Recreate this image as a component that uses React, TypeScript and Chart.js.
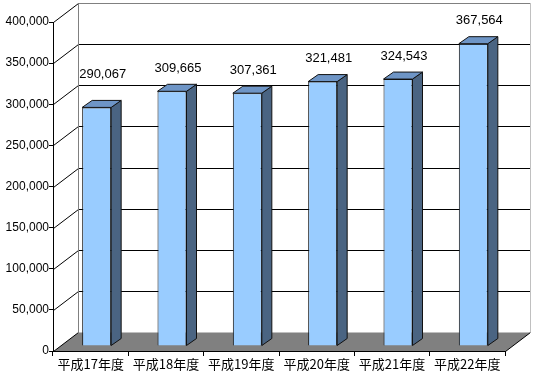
import React, { useEffect, useRef } from "react";
import { Chart, registerables } from "chart.js";

Chart.register(...registerables);

const categories = ["平成17年度", "平成18年度", "平成19年度", "平成20年度", "平成21年度", "平成22年度"];
const values = [290067, 309665, 307361, 321481, 324543, 367564];
const yMin = 0;
const yMax = 400000;
const yStep = 50000;

// 3D geometry (pixels)
const WALL_DX = 25;
const WALL_DY = 19;
const BAR_SHIFT_X = 6;
const BAR_SHIFT_Y = 5;
const BAR_DX = 10;
const BAR_DY = 7;
const LABEL_LIFT = 23;
const FIRST_LABEL_EXTRA = 10;

const FRONT = "#99CCFF";
const SIDE = "#4A6482";
const TOP = "#6E95C6";
const FLOOR = "#808080";

const fmt = (v: number) => v.toLocaleString("en-US");

const wallsPlugin = {
  id: "walls3d",
  beforeDraw(chart: any) {
    const { ctx, chartArea, scales } = chart;
    const { left, right, bottom } = chartArea;
    const y = scales.y;
    const L = Math.round(left) + 0.5;
    const R = Math.round(right) + 0.5;
    const B = Math.round(bottom) + 0.5;
    ctx.save();
    ctx.fillStyle = FLOOR;
    ctx.beginPath();
    ctx.moveTo(L, B);
    ctx.lineTo(R, B);
    ctx.lineTo(R + WALL_DX, B - WALL_DY);
    ctx.lineTo(L + WALL_DX, B - WALL_DY);
    ctx.closePath();
    ctx.fill();
    ctx.lineWidth = 1;
    ctx.strokeStyle = "#000";
    ctx.beginPath();
    ctx.moveTo(R, B);
    ctx.lineTo(R + WALL_DX, B - WALL_DY);
    ctx.stroke();
    ctx.beginPath();
    ctx.moveTo(L, B);
    ctx.lineTo(L + WALL_DX, B - WALL_DY);
    ctx.stroke();
    for (let v = yMin + yStep; v <= yMax; v += yStep) {
      const py = Math.round(y.getPixelForValue(v)) + 0.5;
      ctx.strokeStyle = v === yMax ? "#808080" : "#000";
      ctx.beginPath();
      ctx.moveTo(L + WALL_DX, py - WALL_DY);
      ctx.lineTo(R + WALL_DX, py - WALL_DY);
      ctx.stroke();
      ctx.strokeStyle = "#000";
      ctx.beginPath();
      ctx.moveTo(L, py);
      ctx.lineTo(L + WALL_DX, py - WALL_DY);
      ctx.stroke();
    }
    const topPy = Math.round(y.getPixelForValue(yMax)) + 0.5;
    ctx.strokeStyle = "#808080";
    ctx.beginPath();
    ctx.moveTo(L + WALL_DX, topPy - WALL_DY);
    ctx.lineTo(L + WALL_DX, B - WALL_DY);
    ctx.stroke();
    ctx.strokeStyle = "#C0C0C0";
    ctx.beginPath();
    ctx.moveTo(R + WALL_DX, topPy - WALL_DY);
    ctx.lineTo(R + WALL_DX, B - WALL_DY);
    ctx.stroke();
    ctx.restore();
  },
  beforeDatasetsDraw(chart: any) {
    chart.ctx.save();
    chart.ctx.translate(BAR_SHIFT_X, -BAR_SHIFT_Y);
  },
  afterDatasetsDraw(chart: any) {
    const { ctx } = chart;
    const meta = chart.getDatasetMeta(0);
    ctx.lineWidth = 1;
    ctx.strokeStyle = "#111";
    meta.data.forEach((el: any) => {
      const { x, y, base, width } = el.getProps(["x", "y", "base", "width"], true);
      const l = x - width / 2;
      const r = x + width / 2;
      ctx.fillStyle = SIDE;
      ctx.beginPath();
      ctx.moveTo(r, y);
      ctx.lineTo(r + BAR_DX, y - BAR_DY);
      ctx.lineTo(r + BAR_DX, base - BAR_DY);
      ctx.lineTo(r, base);
      ctx.closePath();
      ctx.fill();
      ctx.stroke();
      ctx.fillStyle = TOP;
      ctx.beginPath();
      ctx.moveTo(l, y);
      ctx.lineTo(l + BAR_DX, y - BAR_DY);
      ctx.lineTo(r + BAR_DX, y - BAR_DY);
      ctx.lineTo(r, y);
      ctx.closePath();
      ctx.fill();
      ctx.stroke();
    });
    ctx.restore();
    ctx.save();
    ctx.fillStyle = "#000";
    ctx.font = "13px 'Liberation Sans', Arial, sans-serif";
    ctx.textAlign = "center";
    ctx.textBaseline = "middle";
    meta.data.forEach((el: any, i: number) => {
      const { x, y } = el.getProps(["x", "y"], true);
      const lift = LABEL_LIFT + (i === 0 ? FIRST_LABEL_EXTRA : 0);
      ctx.fillText(fmt(values[i]), x + BAR_SHIFT_X + 6, y - BAR_SHIFT_Y - lift);
    });
    ctx.restore();
  },
};

export default function App() {
  const ref = useRef<HTMLCanvasElement | null>(null);
  useEffect(() => {
    document.body.style.margin = "0";
    const canvas = ref.current;
    if (!canvas) return;
    const chart = new Chart(canvas, {
      type: "bar",
      data: {
        labels: categories,
        datasets: [
          {
            data: values,
            backgroundColor: FRONT,
            borderColor: "#111",
            borderWidth: 1,
            barPercentage: 0.385,
            categoryPercentage: 1,
          },
        ],
      },
      options: {
        responsive: false,
        animation: false,
        events: [],
        layout: { padding: { top: 22, right: 45, left: 0, bottom: 0 } },
        plugins: { legend: { display: false }, tooltip: { enabled: false } },
        scales: {
          x: {
            grid: { drawOnChartArea: false, tickLength: 5, color: "#000", offset: true },
            border: { display: true, color: "#000" },
            ticks: {
              color: "#000",
              padding: 0,
              maxRotation: 0,
              autoSkip: false,
              font: { family: "'Noto Sans CJK JP', sans-serif", size: 13 },
            },
            afterFit: (s: any) => {
              s.height = 29;
            },
          },
          y: {
            min: yMin,
            max: yMax,
            grid: { drawOnChartArea: false, tickLength: 4, color: "#000" },
            border: { display: true, color: "#000" },
            ticks: {
              stepSize: yStep,
              color: "#000",
              padding: 0,
              font: { family: "'Liberation Sans', Arial, sans-serif", size: 12 },
              callback: (v: any) => fmt(Number(v)),
            },
            afterFit: (s: any) => {
              s.width = 53;
            },
          },
        },
      },
      plugins: [wallsPlugin],
    });
    return () => chart.destroy();
  }, []);
  return (
    <div style={{ width: 550, height: 380 }}>
      <canvas ref={ref} width={550} height={380} style={{ display: "block" }} />
    </div>
  );
}
